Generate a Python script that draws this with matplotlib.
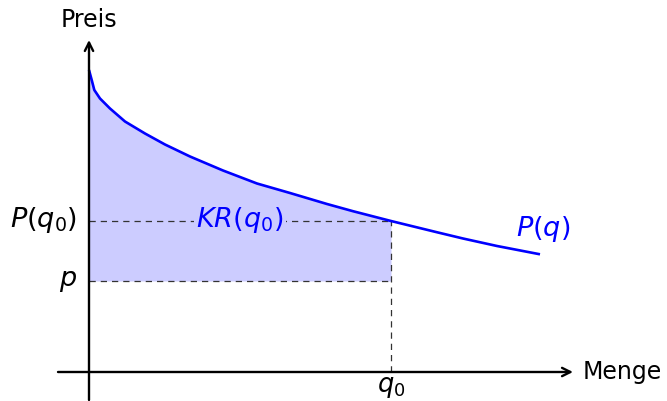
import matplotlib
matplotlib.use("Agg")
import matplotlib.pyplot as plt
import numpy as np

plt.rcParams['mathtext.fontset'] = 'custom'
plt.rcParams['mathtext.rm'] = 'DejaVu Sans'
plt.rcParams['mathtext.it'] = 'DejaVu Sans:italic'
plt.rcParams['font.family'] = 'DejaVu Sans'

# demand curve (arbitrary units)
q_vals = [0, 2.7, 5.3, 11, 21, 36, 56, 76, 101, 134, 168, 201, 238, 264, 302,
          349, 374, 408, 451]
P_vals = [302, 292, 282, 273.5, 263.5, 250.5, 238.5, 227.5, 215.5, 201.5, 188.5,
          179, 168, 160.8, 151, 139.5, 133.5, 126, 117.7]
q0 = 302
P_q0 = 151
p_level = 91

fig = plt.figure(figsize=(6.67, 4.01), dpi=100)
ax = fig.add_axes([0, 0, 1, 1])
ax.set_xlim(-89, 667 - 89)
ax.set_ylim(372 - 401, 372)
ax.axis('off')

q = np.array(q_vals, dtype=float)
P = np.array(P_vals, dtype=float)
mask = q <= q0
ax.fill_between(q[mask], p_level, P[mask], color=(0.8, 0.8, 1.0), lw=0, zorder=1)

dash = dict(color='#333333', lw=0.9, ls=(0, (5, 4)), zorder=2)
ax.plot([0, q0], [P_q0, P_q0], **dash)
ax.plot([0, q0], [p_level, p_level], **dash)
ax.plot([q0, q0], [0, P_q0], **dash)

ax.plot(q, P, color=(0, 0, 1), lw=1.9, zorder=3, solid_capstyle='butt',
        solid_joinstyle='round')

arrow = dict(arrowstyle='->,head_length=0.6,head_width=0.3', lw=1.7, color='black',
             shrinkA=0, shrinkB=0)
ax.annotate('', xy=(484, 0), xytext=(-31, 0), arrowprops=arrow, zorder=4)
ax.annotate('', xy=(0, 332), xytext=(0, -28), arrowprops=arrow, zorder=4)

fs = 17
mfs = 19.5
ax.text(0, 352, 'Preis', ha='center', va='center', fontsize=fs)
ax.text(494, 0, 'Menge', ha='left', va='center', fontsize=fs)
ax.text(-12, P_q0 + 1, r'$P(q_0)$', ha='right', va='center', fontsize=mfs)
ax.text(-12, p_level, r'$p$', ha='right', va='center', fontsize=mfs)
ax.text(q0, -15, r'$q_0$', ha='center', va='center', fontsize=18.5)
ax.text(151, P_q0 + 1, r'$KR(q_0)$', ha='center', va='center', fontsize=mfs,
        color=(0, 0, 1), zorder=3,
        bbox=dict(facecolor=(0.8, 0.8, 1.0), edgecolor='none', pad=2))
ax.text(454, 143, r'$P(q)$', ha='center', va='center', fontsize=mfs, color=(0, 0, 1))

fig.savefig('out.png', dpi=100)
